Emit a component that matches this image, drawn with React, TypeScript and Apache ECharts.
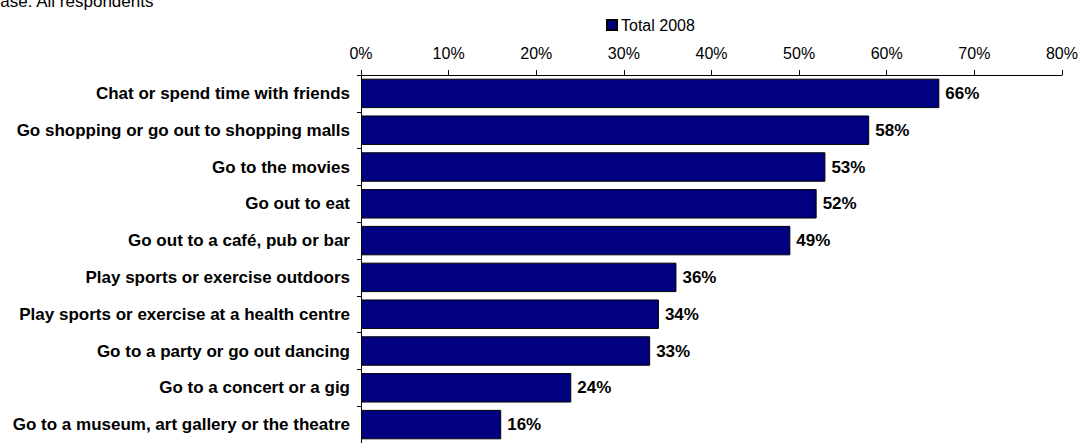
import React, { useEffect, useRef } from "react";
import * as echarts from "echarts";

const categories = [
  "Chat or spend time with friends",
  "Go shopping or go out to shopping malls",
  "Go to the movies",
  "Go out to eat",
  "Go out to a café, pub or bar",
  "Play sports or exercise outdoors",
  "Play sports or exercise at a health centre",
  "Go to a party or go out dancing",
  "Go to a concert or a gig",
  "Go to a museum, art gallery or the theatre",
];
const total2008 = [66, 58, 53, 52, 49, 36, 34, 33, 24, 16];
const seriesName = "Total 2008";
const baseNote = "Base: All respondents";

export default function App() {
  const ref = useRef<HTMLDivElement>(null);
  useEffect(() => {
    document.body.style.margin = "0";
    const chart = echarts.init(ref.current!, undefined, { renderer: "svg" });
    const font = "Arial, 'Liberation Sans', sans-serif";
    chart.setOption({
      animation: false,
      textStyle: { fontFamily: font },
      graphic: [
        {
          type: "text",
          left: -11,
          top: -7,
          style: { text: baseNote, font: `17px ${font}`, fill: "#000" },
        },
      ],
      legend: {
        data: [seriesName],
        left: 601,
        top: 12,
        itemWidth: 10,
        itemHeight: 10,
        itemGap: 5,
        icon: "rect",
        textStyle: { fontSize: 16, color: "#000", fontFamily: font, padding: [0, 0, 0, -1] },
      },
      grid: { left: 361, right: 18, top: 75, height: 370 },
      xAxis: {
        type: "value",
        position: "top",
        min: 0,
        max: 80,
        interval: 10,
        axisLine: { show: true, lineStyle: { color: "#000", width: 1 } },
        axisTick: { show: true, length: 5, lineStyle: { color: "#000" } },
        splitLine: { show: false },
        axisLabel: { formatter: "{value}%", fontSize: 16, color: "#000", margin: 14, fontFamily: font },
      },
      yAxis: {
        type: "category",
        data: categories,
        inverse: true,
        axisLine: { show: true, lineStyle: { color: "#000", width: 1 } },
        axisTick: { show: true, length: 4, alignWithLabel: false, lineStyle: { color: "#000" } },
        axisLabel: { fontSize: 17, fontWeight: "bold", color: "#000", margin: 11, fontFamily: font },
      },
      series: [
        {
          name: seriesName,
          type: "bar",
          data: total2008,
          barCategoryGap: "20%",
          itemStyle: { color: "#000080", borderColor: "#000", borderWidth: 1 },
          label: {
            show: true,
            position: "right",
            distance: 6,
            formatter: "{c}%",
            fontSize: 17,
            fontWeight: "bold",
            color: "#000",
            fontFamily: font,
          },
        },
      ],
    });
    return () => chart.dispose();
  }, []);
  return <div ref={ref} style={{ width: 1081, height: 443 }} />;
}
